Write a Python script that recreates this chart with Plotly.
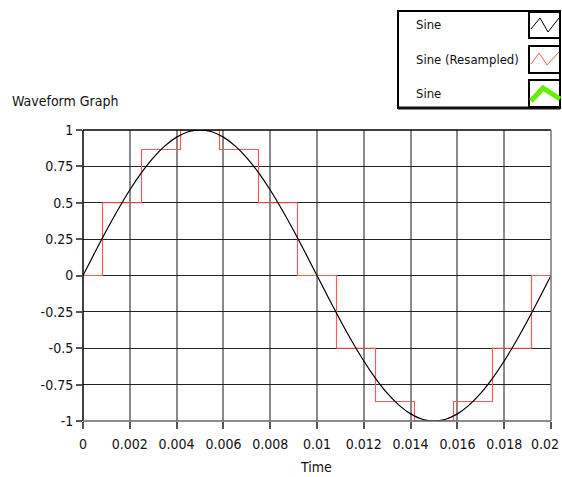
import plotly.graph_objects as go

# ---- data ----
sine_t = [i * 0.0005 for i in range(41)]
sine_v = [0, 0.156, 0.309, 0.454, 0.588, 0.707, 0.809, 0.891, 0.951, 0.988,
          1, 0.988, 0.951, 0.891, 0.809, 0.707, 0.588, 0.454, 0.309, 0.156,
          0, -0.156, -0.309, -0.454, -0.588, -0.707, -0.809, -0.891, -0.951, -0.988,
          -1, -0.988, -0.951, -0.891, -0.809, -0.707, -0.588, -0.454, -0.309, -0.156, 0]
res_t = [0, 0.001667, 0.003333, 0.005, 0.006667, 0.008333, 0.01,
         0.011667, 0.013333, 0.015, 0.016667, 0.018333, 0.02]
res_v = [0, 0.5, 0.866, 1, 0.866, 0.5, 0, -0.5, -0.866, -1, -0.866, -0.5, 0]
x_ticks = [0, 0.002, 0.004, 0.006, 0.008, 0.01, 0.012, 0.014, 0.016, 0.018, 0.02]
x_tick_text = ["0", "0.002", "0.004", "0.006", "0.008", "0.01", "0.012", "0.014", "0.016", "0.018", "0.02"]
y_ticks = [1, 0.75, 0.5, 0.25, 0, -0.25, -0.5, -0.75, -1]
y_tick_text = ["1", "0.75", "0.5", "0.25", "0", "-0.25", "-0.5", "-0.75", "-1"]
legend_names = ["Sine", "Sine (Resampled)", "Sine"]

FONT = "Liberation Sans Narrow, Arial Narrow, DejaVu Sans Condensed, sans-serif"
FS = 14
W, H = 562, 477
L, R, T, B = 83, 551, 130, 421

def px(x):
    return (x - L) / (R - L)

def py(y):
    return (B - y) / (B - T)

fig = go.Figure()
fig.add_trace(go.Scatter(x=res_t, y=res_v, mode="lines", line=dict(color="#ff5a5a", width=1.2, shape="hvh"),
                         cliponaxis=False, showlegend=False))
fig.add_trace(go.Scatter(x=sine_t, y=sine_v, mode="lines", line=dict(color="#000000", width=1.2, shape="spline"),
                         cliponaxis=False, showlegend=False))

shapes = []
# frame pieces
shapes.append(dict(type="line", xref="paper", yref="paper", x0=0, x1=1, y0=1, y1=1, line=dict(color="#000", width=1.5)))
shapes.append(dict(type="line", xref="paper", yref="paper", x0=0, x1=0, y0=0, y1=1, line=dict(color="#000", width=1.5)))
shapes.append(dict(type="line", xref="paper", yref="paper", x0=1, x1=1, y0=0, y1=1, line=dict(color="#777", width=1.5)))
shapes.append(dict(type="line", xref="paper", yref="paper", x0=0, x1=1, y0=0, y1=0, line=dict(color="#666", width=1.5)))

# legend box
shapes.append(dict(type="rect", xref="paper", yref="paper", x0=px(398), x1=px(560), y0=py(108), y1=py(11),
                   line=dict(color="#000", width=2), fillcolor="white", layer="above"))
shapes.append(dict(type="line", xref="paper", yref="paper", x0=px(398), x1=px(560), y0=py(108), y1=py(108),
                   line=dict(color="#111", width=3), layer="above"))
rows = [(12, 38), (46, 73), (80, 107)]
for (y0, y1) in rows:
    shapes.append(dict(type="rect", xref="paper", yref="paper", x0=px(529), x1=px(560), y0=py(y1), y1=py(y0),
                       line=dict(color="#000", width=2), fillcolor="white", layer="above"))

def path(pts):
    return "M " + " L ".join(f"{px(a)},{py(b)}" for a, b in pts)

shapes.append(dict(type="path", xref="paper", yref="paper", path=path([(531, 29), (540, 18), (548, 32), (559, 18)]),
                   line=dict(color="#000", width=1), layer="above"))
shapes.append(dict(type="path", xref="paper", yref="paper", path=path([(531, 64), (539, 53), (547, 65), (559, 52)]),
                   line=dict(color="#ff5a5a", width=1), layer="above"))
shapes.append(dict(type="path", xref="paper", yref="paper", path=path([(531, 101), (543, 88), (560, 99)]),
                   line=dict(color="#66ee00", width=5), layer="above"))

annotations = []
for name, (y0, y1) in zip(legend_names, rows):
    annotations.append(dict(text=name, xref="paper", yref="paper", x=px(414), y=py((y0 + y1) / 2),
                            xanchor="left", yanchor="middle", showarrow=False,
                            font=dict(family=FONT, size=13, color="#111")))
annotations.append(dict(text="Waveform Graph", xref="paper", yref="paper", x=px(10), y=py(101),
                        xanchor="left", yanchor="middle", showarrow=False,
                        font=dict(family=FONT, size=FS, color="#111")))
annotations.append(dict(text="Time", xref="paper", yref="paper", x=px(316), y=py(467),
                        xanchor="center", yanchor="middle", showarrow=False,
                        font=dict(family=FONT, size=FS, color="#111")))
# last x tick label, right-aligned to stay inside the window
annotations.append(dict(text=x_tick_text[-1], xref="paper", yref="paper", x=px(561), y=py(444),
                        xanchor="right", yanchor="middle", showarrow=False,
                        font=dict(family=FONT, size=FS, color="#111")))

shown_x_text = x_tick_text[:-1] + [""]

fig.update_layout(
    width=W, height=H,
    margin=dict(l=L, r=W - R, t=T, b=H - B, pad=0),
    paper_bgcolor="white", plot_bgcolor="white",
    showlegend=False,
    shapes=shapes, annotations=annotations,
    xaxis=dict(range=[0, 0.02], tickvals=x_ticks, ticktext=shown_x_text,
               showgrid=True, gridcolor="#8a8a8a", gridwidth=1.5, zeroline=False,
               ticks="outside", ticklen=7, tickcolor="#555", tickwidth=1.5,
               ticklabelstandoff=3,
               tickfont=dict(family=FONT, size=FS, color="#111"), showline=False),
    yaxis=dict(range=[-1, 1], tickvals=y_ticks, ticktext=y_tick_text,
               showgrid=True, gridcolor="#222", gridwidth=1, zeroline=False,
               ticks="outside", ticklen=6, tickcolor="#555", tickwidth=1.5,
               tickfont=dict(family=FONT, size=FS, color="#111"), showline=False),
)

fig.write_html("out.html", config={"displayModeBar": False})

# remove default page margin so the figure sits at the window's top-left corner
with open("out.html", "r", encoding="utf-8") as f:
    html = f.read()
html = html.replace("<head>", "<head><style>html,body{margin:0;padding:0;overflow:hidden;}</style>", 1)
with open("out.html", "w", encoding="utf-8") as f:
    f.write(html)
